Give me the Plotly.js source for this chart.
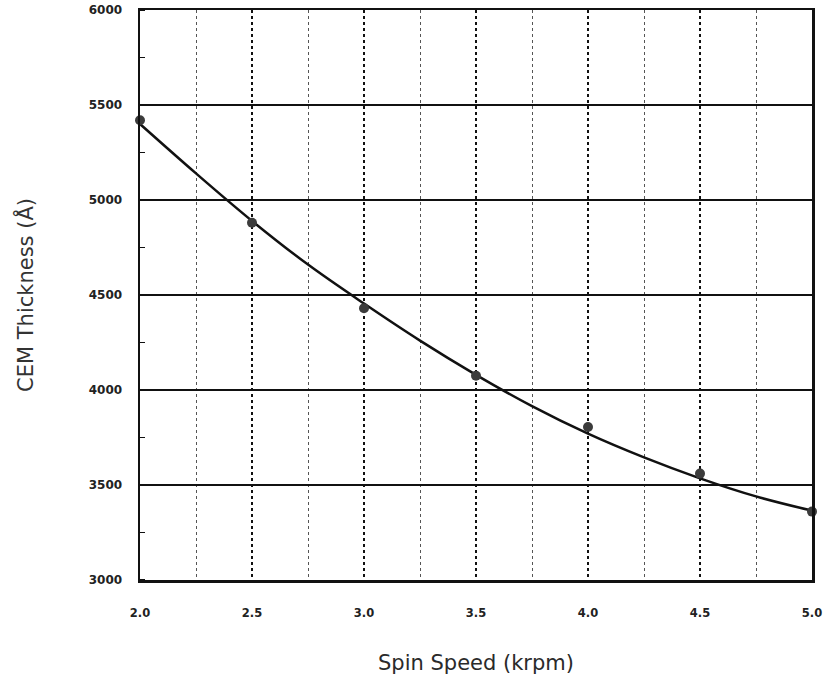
<!DOCTYPE html>
<html>
<head>
<meta charset="utf-8">
<script src="https://cdn.plot.ly/plotly-3.0.1.min.js"></script>
<style>html,body{margin:0;padding:0;background:#fff;}#chart{width:824px;height:682px;}</style>
</head>
<body>
<div id="chart"></div>
<script>
// Measured data points (spin speed in krpm, thickness in Å)
const speeds = [2.0, 2.5, 3.0, 3.5, 4.0, 4.5, 5.0];
const thickness = [5420, 4880, 4430, 4075, 3805, 3560, 3360];

// Fitted curve
const fitSpeeds = [2.0, 2.25, 2.5, 2.75, 3.0, 3.25, 3.5, 3.75, 4.0, 4.25, 4.5, 4.75, 5.0];
const fitThickness = [5400, 5140, 4890, 4660, 4455, 4260, 4080, 3915, 3770, 3645, 3535, 3440, 3365];

const xTickVals = [2.0, 2.5, 3.0, 3.5, 4.0, 4.5, 5.0];
const xTickText = ['2.0', '2.5', '3.0', '3.5', '4.0', '4.5', '5.0'];
const yTickVals = [3000, 3500, 4000, 4500, 5000, 5500, 6000];

const traces = [
  {
    x: fitSpeeds, y: fitThickness, type: 'scatter', mode: 'lines',
    line: {color: '#111', width: 2.5, shape: 'spline', smoothing: 1},
    cliponaxis: false, hoverinfo: 'skip'
  },
  {
    x: speeds, y: thickness, type: 'scatter', mode: 'markers',
    marker: {color: '#3c3c3c', size: 10},
    cliponaxis: false
  }
];

const tickFont = {family: 'DejaVu Sans', size: 12, color: '#222', weight: 'bold'};
const xTickFont = {family: 'DejaVu Sans', size: 11.5, color: '#222', weight: 'bold'};

const layout = {
  width: 824, height: 682,
  margin: {l: 140, r: 12, t: 10, b: 102},
  paper_bgcolor: '#fff', plot_bgcolor: '#fff',
  showlegend: false,
  xaxis: {
    range: [2.0, 5.0], tickvals: xTickVals, ticktext: xTickText,
    ticklabeloverflow: 'allow',
    showgrid: true, gridcolor: '#111', gridwidth: 2.5, griddash: 'dot',
    minor: {dtick: 0.25, showgrid: true, gridcolor: '#555', gridwidth: 1, griddash: 'dot'},
    showline: true, mirror: true, linecolor: '#111', linewidth: 2.5,
    ticks: '', zeroline: false, tickfont: xTickFont, ticklabelstandoff: 21,
    title: {text: 'Spin Speed (krpm)', font: {family: 'DejaVu Sans', size: 21, color: '#2a2a2a'}, standoff: 36},
    automargin: false
  },
  yaxis: {
    range: [3000, 6000], tickvals: yTickVals,
    ticklabeloverflow: 'allow',
    showgrid: true, gridcolor: '#111', gridwidth: 2,
    showline: true, mirror: true, linecolor: '#111', linewidth: 2.5,
    ticks: '', zeroline: false, tickfont: tickFont, ticklabelstandoff: 13,
    minor: {dtick: 250, ticks: 'inside', ticklen: 5, tickcolor: '#111', tickwidth: 1.5, showgrid: false},
    title: {text: 'CEM Thickness (Å)', font: {family: 'DejaVu Sans', size: 21, color: '#333'}, standoff: 50},
    automargin: false
  }
};

Plotly.newPlot('chart', traces, layout, {displayModeBar: false, staticPlot: true});
</script>
</body>
</html>
